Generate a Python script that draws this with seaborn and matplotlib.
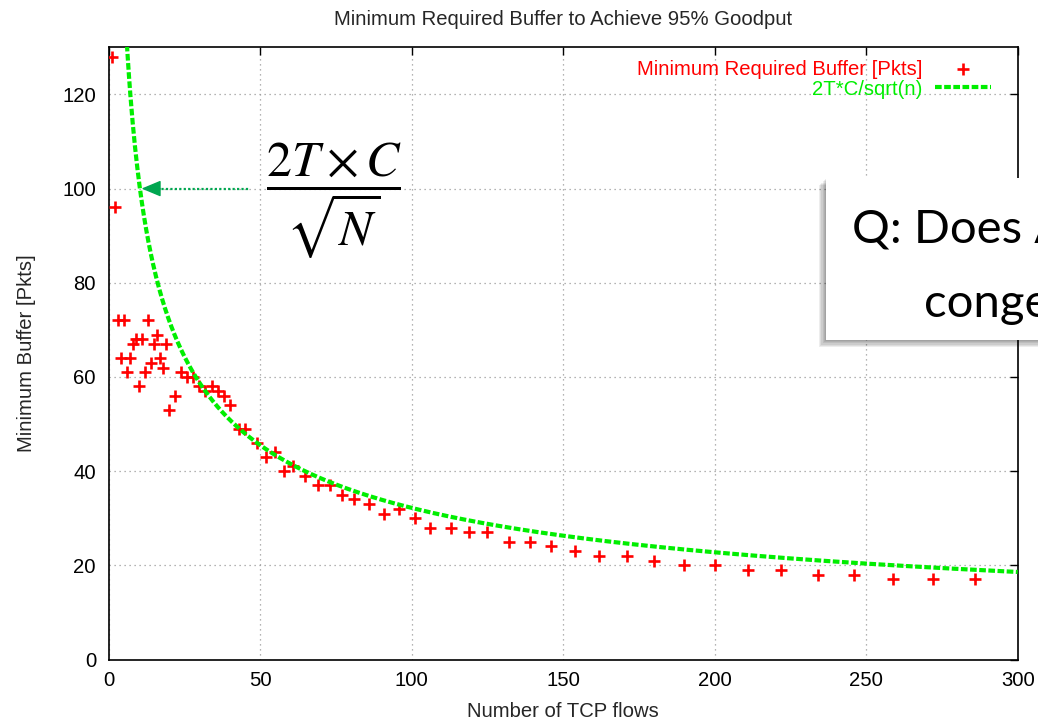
import numpy as np
import pandas as pd
import matplotlib
matplotlib.use("Agg")
import matplotlib.pyplot as plt
from matplotlib.patches import Rectangle
import seaborn as sns

# ---- data -------------------------------------------------------------
flows = [1, 2, 3, 4, 5, 6, 7, 8, 9, 10, 11, 12, 13, 14, 15, 16, 17, 18, 19, 20,
         22, 24, 26, 28, 30, 32, 34, 36, 38, 40, 43, 45, 49, 52, 55, 58, 61, 65,
         69, 73, 77, 81, 86, 91, 96, 101, 106, 113, 119, 125, 132, 139, 146, 154,
         162, 171, 180, 190, 200, 211, 222, 234, 246, 259, 272, 286]
min_buffer = [128, 96, 72, 64, 72, 61, 64, 67, 68, 58, 68, 61, 72, 63, 67, 69, 64, 62, 67, 53,
              56, 61, 60, 60, 58, 57, 58, 57, 56, 54, 49, 49, 46, 43, 44, 40, 41, 39,
              37, 37, 35, 34, 33, 31, 32, 30, 28, 28, 27, 27, 25, 25, 24, 23,
              22, 22, 21, 20, 20, 19, 19, 18, 18, 17, 17, 17]
two_T_C = 322.0           # constant of the 2T*C/sqrt(n) model curve
x_ticks = [0, 50, 100, 150, 200, 250, 300]
y_ticks = [0, 20, 40, 60, 80, 100, 120]
title = "Minimum Required Buffer to Achieve 95% Goodput"
xlabel = "Number of TCP flows"
ylabel = "Minimum Buffer [Pkts]"
label_pts = "Minimum Required Buffer [Pkts]"
label_curve = "2T*C/sqrt(n)"

# ---- style ------------------------------------------------------------
sns.set_style("white")
plt.rcParams["font.family"] = ["Liberation Sans", "DejaVu Sans"]
FS = 14.6
RED = "#ff0000"
GREEN = "#00ee00"
ARROW_GREEN = "#00a650"

W, H = 1038, 721
fig = plt.figure(figsize=(W / 100, H / 100), dpi=100)
ax_l, ax_r, ax_t, ax_b = 108.5, 1017.7, 47.3, 659.5
ax = fig.add_axes([ax_l / W, 1 - ax_b / H, (ax_r - ax_l) / W, (ax_b - ax_t) / H])

df = pd.DataFrame({"flows": flows, "buffer": min_buffer})
n_curve = np.linspace(1, 300, 1200)
curve = pd.DataFrame({"n": n_curve, "b": two_T_C / np.sqrt(n_curve)})

sns.scatterplot(data=df, x="flows", y="buffer", marker="+", s=65, color=RED,
                linewidth=1.9, label=label_pts, ax=ax, zorder=3)
sns.lineplot(data=curve, x="n", y="b", color=GREEN, lw=3.0,
             linestyle=(0, (1.6, 0.6)), label=label_curve, ax=ax, zorder=4)

ax.set_xlim(0, 300)
ax.set_ylim(0, 130)
ax.set_xticks(x_ticks)
ax.set_yticks(y_ticks)
ax.set_xticklabels([str(v) for v in x_ticks])
ax.set_yticklabels([str(v) for v in y_ticks])
ax.tick_params(direction="in", length=6, width=1.0, top=True, right=True,
               labelsize=FS, colors="black")
ax.tick_params(axis="x", pad=8)
ax.tick_params(axis="y", pad=9)
ax.grid(True, linestyle=(0, (1, 3)), color="#9a9a9a", lw=0.9)
for s in ax.spines.values():
    s.set_linewidth(1.2)
    s.set_color("black")

ax.set_title(title, fontsize=FS, pad=16)
ax.set_xlabel(xlabel, fontsize=FS, labelpad=9)
ax.set_ylabel(ylabel, fontsize=FS, labelpad=19)

aw, ah = ax_r - ax_l, ax_b - ax_t
leg = ax.legend(loc="upper right", bbox_to_anchor=(1 - 8 / aw, 1 + 6 / ah),
                markerfirst=False, frameon=False, fontsize=FS,
                handlelength=2.8, handletextpad=0.6, labelspacing=0.05,
                borderaxespad=0.6, borderpad=0.3)
for txt, c in zip(leg.get_texts(), [RED, GREEN]):
    txt.set_color(c)

# ---- annotation: arrow and formula -------------------------------------
ax.plot([16, 46.5], [100, 100], color=ARROW_GREEN, lw=1.6, linestyle=(0, (1, 1)), zorder=5)
ax.annotate("", xy=(10.9, 100), xytext=(17, 100),
            arrowprops=dict(arrowstyle="-|>,head_length=1.2,head_width=0.5",
                            color=ARROW_GREEN, lw=1.0, shrinkA=0, shrinkB=0,
                            mutation_scale=10), zorder=6)
ax.text(74.3, 97.4, r"$\dfrac{2T\times C}{\sqrt{N}}$", ha="center", va="center",
        fontsize=36, math_fontfamily="stix", color="black", zorder=6)

# ---- callout box (clipped by the figure edge, as in the source slide) ---
bx0, by_top, by_bot = 826, 178, 340
bw = 300
for k in range(6):
    off = 1.0 + k * 1.2
    fig.patches.append(Rectangle(((bx0 - off) / W, 1 - (by_bot + off) / H), bw / W,
                                 (by_bot - by_top) / H, transform=fig.transFigure,
                                 facecolor="black", edgecolor="none", alpha=0.07,
                                 zorder=10))
fig.patches.append(Rectangle((bx0 / W, 1 - by_bot / H), bw / W, (by_bot - by_top) / H,
                             transform=fig.transFigure, facecolor="white",
                             edgecolor="none", zorder=11))
fig.text(852 / W, 1 - 242 / H, "Q: Does A", fontsize=34, family=["Lato", "DejaVu Sans"],
         ha="left", va="baseline", color="black", zorder=12)
fig.text(924 / W, 1 - 317 / H, "conge", fontsize=34, family=["Lato", "DejaVu Sans"],
         ha="left", va="baseline", color="black", zorder=12)

fig.savefig("out.png", dpi=100)
